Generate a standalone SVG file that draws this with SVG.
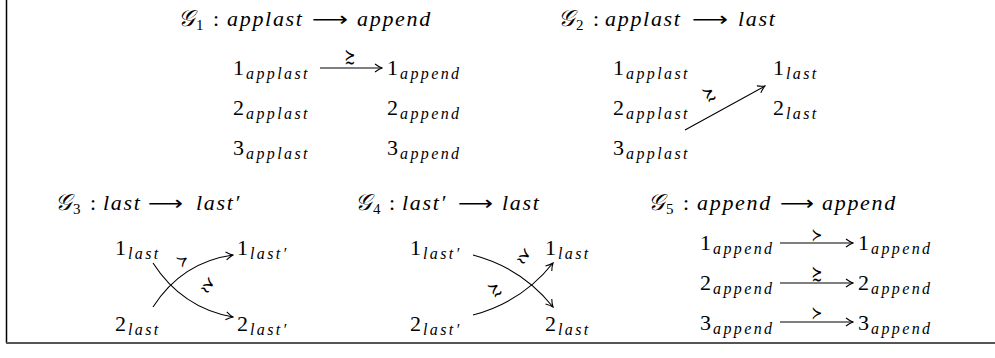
<svg xmlns="http://www.w3.org/2000/svg" width="995" height="358" viewBox="0 0 995 358">
<defs>
<style>
.t{font-family:"Liberation Serif","DejaVu Serif",serif;font-size:22px;fill:#000}
.it{font-style:italic;letter-spacing:1.7px}
.sb{font-size:16px;font-style:italic;letter-spacing:2.4px}
.sn{font-size:15px}
.cal{font-family:"DejaVu Serif","DejaVu Sans","Noto Sans",serif;font-style:italic;font-size:23px}
.ar{font-family:"DejaVu Sans",sans-serif;font-size:20px}
.lb{font-family:"DejaVu Sans",sans-serif;font-size:18px;fill:#000;text-anchor:middle}
.c{fill:none;stroke:#000;stroke-width:1.1}
</style>
<marker id="ah" viewBox="-9 -5 10 10" refX="0" refY="0" markerWidth="10" markerHeight="10" markerUnits="userSpaceOnUse" orient="auto">
<path d="M-7,-4 Q-3,-1 0,0 Q-3,1 -7,4" fill="none" stroke="#000" stroke-width="1.1"/>
</marker>
</defs>
<rect width="995" height="358" fill="#fff"/>
<g id="frame">
<line x1="6.5" y1="0" x2="6.5" y2="343" stroke="#000" stroke-width="1.5"/>
<line x1="6" y1="343" x2="995" y2="343" stroke="#555" stroke-width="2"/>
</g>

<g id="titles">
<text class="t" y="26"><tspan class="cal" x="178">𝒢</tspan><tspan class="sn" x="196" dy="4">1</tspan><tspan x="213" dy="-4">:</tspan><tspan class="it" x="227">applast</tspan><tspan class="ar" x="312" textLength="36" lengthAdjust="spacingAndGlyphs">⟶</tspan><tspan class="it" x="357">append</tspan></text>
<text class="t" y="26"><tspan class="cal" x="558">𝒢</tspan><tspan class="sn" x="576" dy="4">2</tspan><tspan x="593" dy="-4">:</tspan><tspan class="it" x="605">applast</tspan><tspan class="ar" x="692" textLength="36" lengthAdjust="spacingAndGlyphs">⟶</tspan><tspan class="it" x="738">last</tspan></text>
<text class="t" y="210"><tspan class="cal" x="55">𝒢</tspan><tspan class="sn" x="73" dy="4">3</tspan><tspan x="90" dy="-4">:</tspan><tspan class="it" x="103">last</tspan><tspan class="ar" x="148" textLength="35" lengthAdjust="spacingAndGlyphs">⟶</tspan><tspan class="it" x="196">last′</tspan></text>
<text class="t" y="210"><tspan class="cal" x="355">𝒢</tspan><tspan class="sn" x="373" dy="4">4</tspan><tspan x="389" dy="-4">:</tspan><tspan class="it" x="402">last′</tspan><tspan class="ar" x="458" textLength="35" lengthAdjust="spacingAndGlyphs">⟶</tspan><tspan class="it" x="502">last</tspan></text>
<text class="t" y="210"><tspan class="cal" x="648">𝒢</tspan><tspan class="sn" x="666" dy="4">5</tspan><tspan x="683" dy="-4">:</tspan><tspan class="it" x="697">append</tspan><tspan class="ar" x="780" textLength="34" lengthAdjust="spacingAndGlyphs">⟶</tspan><tspan class="it" x="822">append</tspan></text>
</g>

<g id="G1">
<g id="g1-1applast"><text class="t" x="233" y="75">1<tspan class="sb" dx="2" dy="4">applast</tspan></text></g>
<g id="g1-2applast"><text class="t" x="233" y="115">2<tspan class="sb" dx="2" dy="4">applast</tspan></text></g>
<g id="g1-3applast"><text class="t" x="233" y="155">3<tspan class="sb" dx="2" dy="4">applast</tspan></text></g>
<g id="g1-1append"><text class="t" x="387" y="75">1<tspan class="sb" dx="2" dy="4">append</tspan></text></g>
<g id="g1-2append"><text class="t" x="387" y="115">2<tspan class="sb" dx="2" dy="4">append</tspan></text></g>
<g id="g1-3append"><text class="t" x="387" y="155">3<tspan class="sb" dx="2" dy="4">append</tspan></text></g>
</g>

<g id="G2">
<g id="g2-1applast"><text class="t" x="613" y="75">1<tspan class="sb" dx="2" dy="4">applast</tspan></text></g>
<g id="g2-2applast"><text class="t" x="613" y="115">2<tspan class="sb" dx="2" dy="4">applast</tspan></text></g>
<g id="g2-3applast"><text class="t" x="613" y="155">3<tspan class="sb" dx="2" dy="4">applast</tspan></text></g>
<g id="g2-1last"><text class="t" x="773" y="75">1<tspan class="sb" dx="2" dy="4">last</tspan></text></g>
<g id="g2-2last"><text class="t" x="773" y="115">2<tspan class="sb" dx="2" dy="4">last</tspan></text></g>
</g>

<g id="G3">
<g id="g3-1last"><text class="t" x="115" y="255">1<tspan class="sb" dx="2" dy="4">last</tspan></text></g>
<g id="g3-2last"><text class="t" x="115" y="331">2<tspan class="sb" dx="2" dy="4">last</tspan></text></g>
<g id="g3-1lastp"><text class="t" x="237" y="255">1<tspan class="sb" dx="2" dy="4">last′</tspan></text></g>
<g id="g3-2lastp"><text class="t" x="237" y="331">2<tspan class="sb" dx="2" dy="4">last′</tspan></text></g>
</g>

<g id="G4">
<g id="g4-1lastp"><text class="t" x="410" y="255">1<tspan class="sb" dx="2" dy="4">last′</tspan></text></g>
<g id="g4-2lastp"><text class="t" x="410" y="331">2<tspan class="sb" dx="2" dy="4">last′</tspan></text></g>
<g id="g4-1last"><text class="t" x="545" y="255">1<tspan class="sb" dx="2" dy="4">last</tspan></text></g>
<g id="g4-2last"><text class="t" x="545" y="331">2<tspan class="sb" dx="2" dy="4">last</tspan></text></g>
</g>

<g id="G5">
<g id="g5-1l"><text class="t" x="700" y="250">1<tspan class="sb" dx="2" dy="4">append</tspan></text></g>
<g id="g5-2l"><text class="t" x="700" y="290">2<tspan class="sb" dx="2" dy="4">append</tspan></text></g>
<g id="g5-3l"><text class="t" x="700" y="330">3<tspan class="sb" dx="2" dy="4">append</tspan></text></g>
<g id="g5-1r"><text class="t" x="858" y="250">1<tspan class="sb" dx="2" dy="4">append</tspan></text></g>
<g id="g5-2r"><text class="t" x="858" y="290">2<tspan class="sb" dx="2" dy="4">append</tspan></text></g>
<g id="g5-3r"><text class="t" x="858" y="330">3<tspan class="sb" dx="2" dy="4">append</tspan></text></g>
</g>

<g id="connectors">
<path class="c" marker-end="url(#ah)" d="M320,68 H382"/>
<path class="c" marker-end="url(#ah)" d="M685,130 L765,86"/>
<path class="c" marker-end="url(#ah)" d="M153,263 Q182,308 233,317"/>
<path class="c" marker-end="url(#ah)" d="M153,307 Q182,262 233,255"/>
<path class="c" marker-end="url(#ah)" d="M473,255 Q522,268 553,307"/>
<path class="c" marker-end="url(#ah)" d="M473,315 Q522,302 553,263"/>
<path class="c" marker-end="url(#ah)" d="M780,243 H853"/>
<path class="c" marker-end="url(#ah)" d="M780,283 H853"/>
<path class="c" marker-end="url(#ah)" d="M780,322 H853"/>
</g>

<g id="labels">
<text class="lb" transform="translate(350,63) scale(0.72,1.12)">≿</text>
<text class="lb" transform="translate(712,99) rotate(-29) scale(0.72,1.12)">≿</text>
<text class="lb" transform="translate(186,265) rotate(-33) scale(0.72,1)">≻</text>
<text class="lb" transform="translate(205,290) rotate(33) scale(0.72,1.12)">≿</text>
<text class="lb" transform="translate(521,261) rotate(33) scale(0.72,1.12)">≿</text>
<text class="lb" transform="translate(498,294) rotate(-33) scale(0.72,1.12)">≿</text>
<text class="lb" transform="translate(817,241) scale(0.72,1)">≻</text>
<text class="lb" transform="translate(817,280) scale(0.72,1.12)">≿</text>
<text class="lb" transform="translate(817,319) scale(0.72,1)">≻</text>
</g>
</svg>
